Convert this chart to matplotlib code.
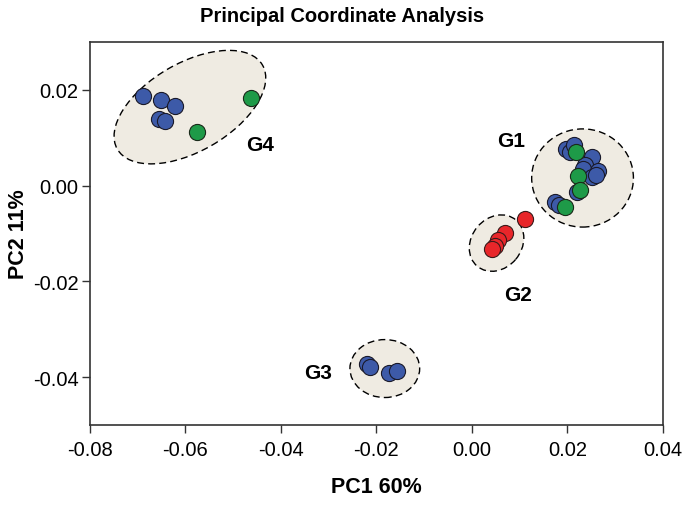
import matplotlib.pyplot as plt
from matplotlib.patches import Ellipse

plt.rcParams['font.family'] = ['Liberation Sans', 'DejaVu Sans']

# sample coordinates (PC1, PC2)
blue_x = [-0.0688, -0.0651, -0.0621, -0.0654, -0.0642,
          0.0197, 0.0205, 0.0215, 0.0251, 0.0238, 0.0232, 0.0264, 0.0251, 0.0260,
          0.0220, 0.0174, 0.0182,
          -0.0220, -0.0213, -0.0174, -0.0157]
blue_y = [0.0188, 0.0178, 0.0167, 0.0139, 0.0136,
          0.0077, 0.0070, 0.0085, 0.0060, 0.0043, 0.0035, 0.0031, 0.0018, 0.0022,
          -0.0013, -0.0034, -0.0041,
          -0.0373, -0.0379, -0.0392, -0.0388]
green_x = [-0.0463, -0.0575, 0.0218, 0.0222, 0.0226, 0.0195]
green_y = [0.0183, 0.0113, 0.0070, 0.0020, -0.0009, -0.0045]
red_x = [0.0111, 0.0069, 0.0056, 0.0048, 0.0042]
red_y = [-0.0070, -0.0099, -0.0114, -0.0126, -0.0133]

# group ellipses: name, center, size, angle, label position
groups = ['G1', 'G2', 'G3', 'G4']
ell_cx = [0.0232, 0.0052, -0.0182, -0.0590]
ell_cy = [0.0016, -0.0120, -0.0382, 0.0164]
ell_w = [0.0213, 0.0126, 0.0146, 0.0351]
ell_h = [0.0205, 0.0105, 0.0121, 0.0184]
ell_ang = [0, 50, 0, 30]
lab_x = [0.0082, 0.0096, -0.0322, -0.0444]
lab_y = [0.0094, -0.0227, -0.0390, 0.0085]

fig = plt.figure(figsize=(6.84, 5.06), dpi=100)
ax = fig.add_axes([0.131, 0.158, 0.838, 0.757])

for i in range(len(groups)):
    e = Ellipse((ell_cx[i], ell_cy[i]), ell_w[i], ell_h[i], angle=ell_ang[i],
                facecolor='#efebe2', edgecolor='black', linestyle=(0, (5, 3)),
                linewidth=1.0, zorder=1)
    ax.add_patch(e)
    ax.text(lab_x[i], lab_y[i], groups[i], fontsize=15, fontweight='bold',
            ha='center', va='center', zorder=4)

ax.scatter(blue_x, blue_y, s=135, color='#3d5aa8', edgecolor='#1a1a2a', linewidth=0.8, zorder=3)
ax.scatter(green_x, green_y, s=135, color='#1e9a48', edgecolor='#1a2a1a', linewidth=0.8, zorder=3)
ax.scatter(red_x, red_y, s=135, color='#e8262a', edgecolor='#3a1a1a', linewidth=0.8, zorder=3)

ax.set_xlim(-0.08, 0.04)
ax.set_ylim(-0.05, 0.03)
ax.set_xticks([-0.08, -0.06, -0.04, -0.02, 0.00, 0.02, 0.04])
ax.set_yticks([-0.04, -0.02, 0.00, 0.02])
ax.set_xticklabels(['-0.08', '-0.06', '-0.04', '-0.02', '0.00', '0.02', '0.04'])
ax.set_yticklabels(['-0.04', '-0.02', '0.00', '0.02'])
ax.tick_params(direction='out', length=6, width=1, labelsize=14.5, color='#333333')
ax.tick_params(axis='x', pad=5)
ax.tick_params(axis='y', pad=2)
for sp in ax.spines.values():
    sp.set_linewidth(1.2)
    sp.set_color('#333333')

ax.set_xlabel('PC1 60%', fontsize=15.5, fontweight='bold', labelpad=12)
ax.set_ylabel('PC2 11%', fontsize=15.5, fontweight='bold', labelpad=3)
fig.text(0.5, 1 - 16 / 506, 'Principal Coordinate Analysis', fontsize=14.5,
         fontweight='bold', ha='center', va='center')

fig.savefig('out.png', dpi=100)
